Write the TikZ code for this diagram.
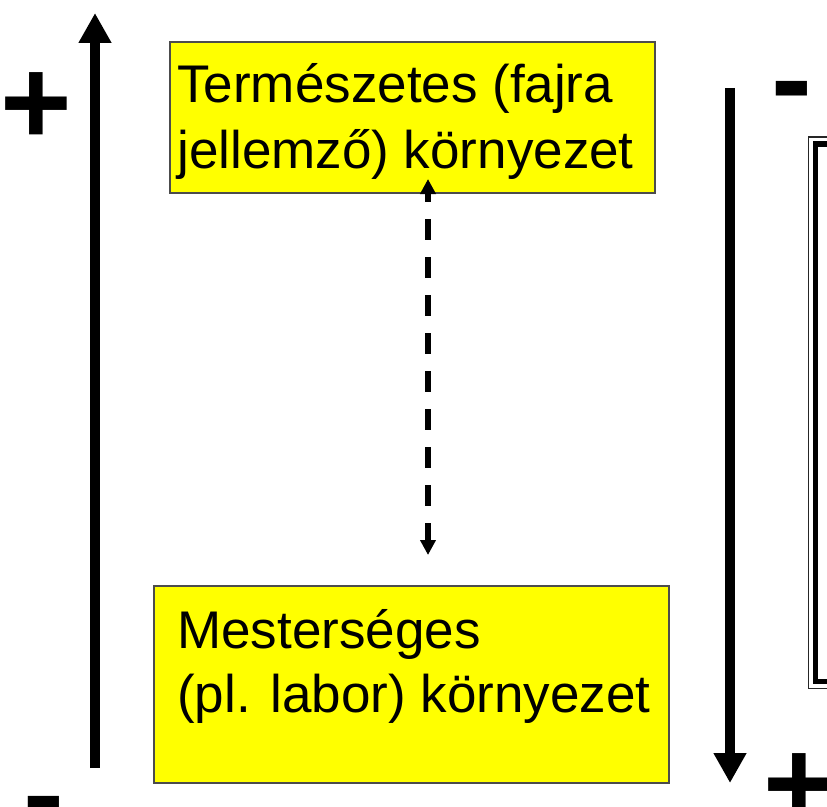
\documentclass[tikz,border=0pt]{standalone}
\usepackage{fontspec}
\setmainfont{Liberation Sans}
\usetikzlibrary{arrows.meta}
\definecolor{boxyellow}{RGB}{255,255,0}
\begin{document}
\begin{tikzpicture}[x=0.75pt,y=-0.75pt,
  ybox/.style={draw=black!70, line width=1.1pt, fill=boxyellow, inner sep=0pt},
  boxtext/.style={font=\fontsize{39.75}{48}\selectfont, inner sep=0pt, anchor=base west},
  sign/.style={font=\fontsize{92}{92}\selectfont\bfseries, inner sep=0pt, anchor=base},
  bigarrow/.style={line width=7.5pt, -{Triangle[width=23.25pt,length=22.5pt]}},
  dasharrow/.style={line width=4.5pt, dash pattern=on 15.75pt off 12.75pt, dash phase=9pt,
    {Triangle[width=11.25pt,length=11.25pt]}-{Triangle[width=11.25pt,length=11.25pt]}},
  frameouter/.style={draw=black!85, line width=1.2pt},
  frameinner/.style={draw=black, line width=4.3pt}
]
\useasboundingbox (0,0) rectangle (827,806);

% boxes
\node[ybox, minimum width=485*0.75pt, minimum height=151*0.75pt] (top) at (412.5,117.5) {};
\node[ybox, minimum width=515*0.75pt, minimum height=197*0.75pt] (bot) at (411.5,684.5) {};

% texts
\node[boxtext] (t1) at (177,103) {Természetes (fajra};
\node[boxtext] (t2) at (177,168) {jellemző) környezet};
\node[boxtext] (b1) at (177,648) {Mesterséges};
\node[boxtext] (b2) at (177,712) {(pl. labor) környezet};

% coordinates for arrows
\coordinate (lbot) at (95,768);
\coordinate (ltop) at (95,13);
\coordinate (rtop) at (730,88);
\coordinate (rbot) at (730,783);
\coordinate (dtop) at (428,179);
\coordinate (dbot) at (428,555);

\draw[bigarrow] (lbot) -- (ltop);
\draw[bigarrow] (rtop) -- (rbot);
\draw[dasharrow] (dtop) -- (dbot);

% signs
\node[sign] (plusL) at (36,145) {+};
\node[sign] (minusR) at (791.5,120.5) {-};
\node[sign] (plusR) at (799,825) {+};
\node[sign] (minusL) at (43.5,835.5) {-};

% right frame
\draw[frameouter] (808.5,137) rectangle (880,688.5);
\draw[frameinner] (815.5,144) rectangle (880,681.5);
\end{tikzpicture}
\end{document}
